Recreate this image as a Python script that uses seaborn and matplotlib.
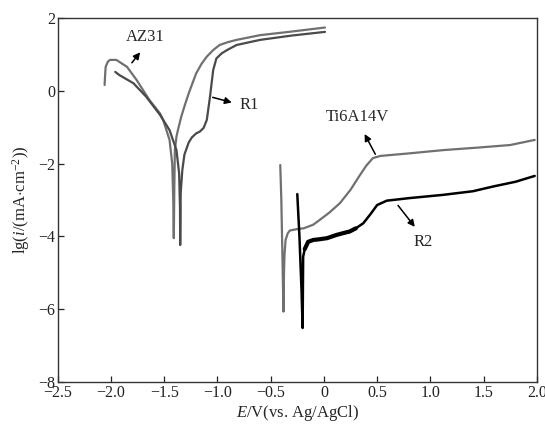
import matplotlib
matplotlib.use("Agg")
import matplotlib.pyplot as plt
import seaborn as sns
import pandas as pd

# Potentiodynamic polarization curves: potential E (V vs. Ag/AgCl) and lg(i)
az31_e = [-2.06, -2.055, -2.05, -2.03, -2.01, -1.95, -1.85, -1.76, -1.64, -1.54, -1.51,
          -1.45, -1.425, -1.415, -1.41, -1.405, -1.40, -1.385, -1.37, -1.34, -1.305,
          -1.27, -1.20, -1.15, -1.10, -1.04, -0.98, -0.90, -0.82, -0.60, -0.30, 0.01]
az31_lg = [0.16, 0.45, 0.66, 0.80, 0.85, 0.85, 0.66, 0.30, -0.25, -0.62, -0.80,
           -1.35, -2.00, -3.00, -4.05, -2.60, -1.63, -1.26, -1.06, -0.71, -0.38,
           -0.07, 0.48, 0.74, 0.94, 1.12, 1.26, 1.34, 1.40, 1.53, 1.63, 1.74]

r1_e = [-1.96, -1.92, -1.79, -1.67, -1.54, -1.45, -1.385, -1.36, -1.352, -1.35,
        -1.345, -1.33, -1.31, -1.27, -1.24, -1.20, -1.165, -1.13, -1.10, -1.07, -1.04,
        -1.01, -0.96, -0.91, -0.82, -0.60, -0.30, 0.01]
r1_lg = [0.52, 0.43, 0.21, -0.16, -0.66, -1.08, -1.63, -2.27, -3.20, -4.24,
         -2.80, -2.18, -1.75, -1.42, -1.28, -1.17, -1.12, -1.02, -0.80, -0.16, 0.57,
         0.89, 1.03, 1.12, 1.26, 1.40, 1.52, 1.62]

ti_e = [-0.41, -0.40, -0.39, -0.383, -0.38, -0.375, -0.37, -0.36, -0.34, -0.32, -0.25,
        -0.19, -0.10, -0.04, 0.05, 0.15, 0.25, 0.34, 0.40, 0.46, 0.53, 0.80, 1.12,
        1.45, 1.75, 1.98]
ti_lg = [-2.04, -3.00, -4.50, -5.60, -6.07, -5.00, -4.50, -4.10, -3.92, -3.84, -3.80,
         -3.78, -3.68, -3.55, -3.35, -3.09, -2.72, -2.31, -2.05, -1.85, -1.79, -1.72,
         -1.63, -1.56, -1.49, -1.35]

r2_e = [-0.25, -0.23, -0.21, -0.20, -0.195, -0.18, -0.148, -0.10, -0.04, 0.03, 0.12,
        0.21, 0.24, 0.30, 0.37, 0.44, 0.50, 0.59, 0.80, 1.12, 1.40, 1.59, 1.80, 1.98]
r2_lg = [-2.84, -4.00, -5.50, -6.52, -4.56, -4.35, -4.15, -4.10, -4.08, -4.05, -3.96,
         -3.89, -3.87, -3.78, -3.64, -3.38, -3.14, -3.02, -2.95, -2.86, -2.76, -2.63,
         -2.50, -2.34]

series = [
    ("AZ31", az31_e, az31_lg, "#707070", 1.6),
    ("R1", r1_e, r1_lg, "#4a4a4a", 1.6),
    ("Ti6A14V", ti_e, ti_lg, "#707070", 1.6),
    ("R2", r2_e, r2_lg, "#000000", 1.8),
]

x_ticks = [-2.5, -2.0, -1.5, -1.0, -0.5, 0, 0.5, 1.0, 1.5, 2.0]
x_tick_labels = ["\u22122.5", "\u22122.0", "\u22121.5", "\u22121.0", "\u22120.5", "0",
                 "0.5", "1.0", "1.5", "2.0"]
y_ticks = [-8, -6, -4, -2, 0, 2]
y_tick_labels = ["\u22128", "\u22126", "\u22124", "\u22122", "0", "2"]

sns.set_style("ticks")
plt.rcParams["font.family"] = ["Liberation Serif", "DejaVu Serif"]
plt.rcParams["mathtext.fontset"] = "custom"
plt.rcParams["mathtext.rm"] = "Liberation Serif"
plt.rcParams["mathtext.it"] = "Liberation Serif:italic"

fig = plt.figure(figsize=(5.45, 4.30), dpi=100)
ax = fig.add_axes([0.106, 0.112, 0.879, 0.846])

for name, e, lg, color, lw in series:
    df = pd.DataFrame({"E": e, "lg": lg})
    sns.lineplot(data=df, x="E", y="lg", sort=False, estimator=None,
                 color=color, linewidth=lw, ax=ax)

# the passive region of R2 carries heavy current noise: draw it as a thicker trace
noisy = pd.DataFrame({"E": r2_e[5:14], "lg": r2_lg[5:14]})
sns.lineplot(data=noisy, x="E", y="lg", sort=False, estimator=None,
             color="#000000", linewidth=3.0, ax=ax)

ax.set_xlim(-2.5, 2.0)
ax.set_ylim(-8, 2)
ax.set_xticks(x_ticks)
ax.set_xticklabels(x_tick_labels)
ax.set_yticks(y_ticks)
ax.set_yticklabels(y_tick_labels)
ax.tick_params(direction="in", length=4, width=0.9, labelsize=11.5, colors="#222222",
               pad=2)
for side in ["top", "right", "bottom", "left"]:
    ax.spines[side].set_visible(True)
    ax.spines[side].set_linewidth(1.0)
    ax.spines[side].set_color("#333333")

ax.set_xlabel(r"$E$/V(vs. Ag/AgCl)", fontsize=12, labelpad=2)
ax.set_ylabel(r"lg($i$/(mA$\cdot$cm$^{-2}$))", fontsize=12, labelpad=4)

arrow = dict(arrowstyle="-|>", color="black", lw=1.1, mutation_scale=10)
ax.annotate("", xy=(-1.71, 1.12), xytext=(-1.82, 0.71), arrowprops=arrow)
ax.text(-1.68, 1.49, "AZ31", fontsize=12, ha="center", va="center")
ax.annotate("", xy=(-0.84, -0.34), xytext=(-1.07, -0.16), arrowprops=arrow)
ax.text(-0.70, -0.39, "R1", fontsize=12, ha="center", va="center")
ax.annotate("", xy=(0.37, -1.12), xytext=(0.495, -1.81), arrowprops=arrow)
ax.text(0.31, -0.71, "Ti6A14V", fontsize=12, ha="center", va="center")
ax.annotate("", xy=(0.87, -3.80), xytext=(0.68, -3.09), arrowprops=arrow)
ax.text(0.93, -4.15, "R2", fontsize=12, ha="center", va="center")

fig.savefig("out.png", dpi=100)
